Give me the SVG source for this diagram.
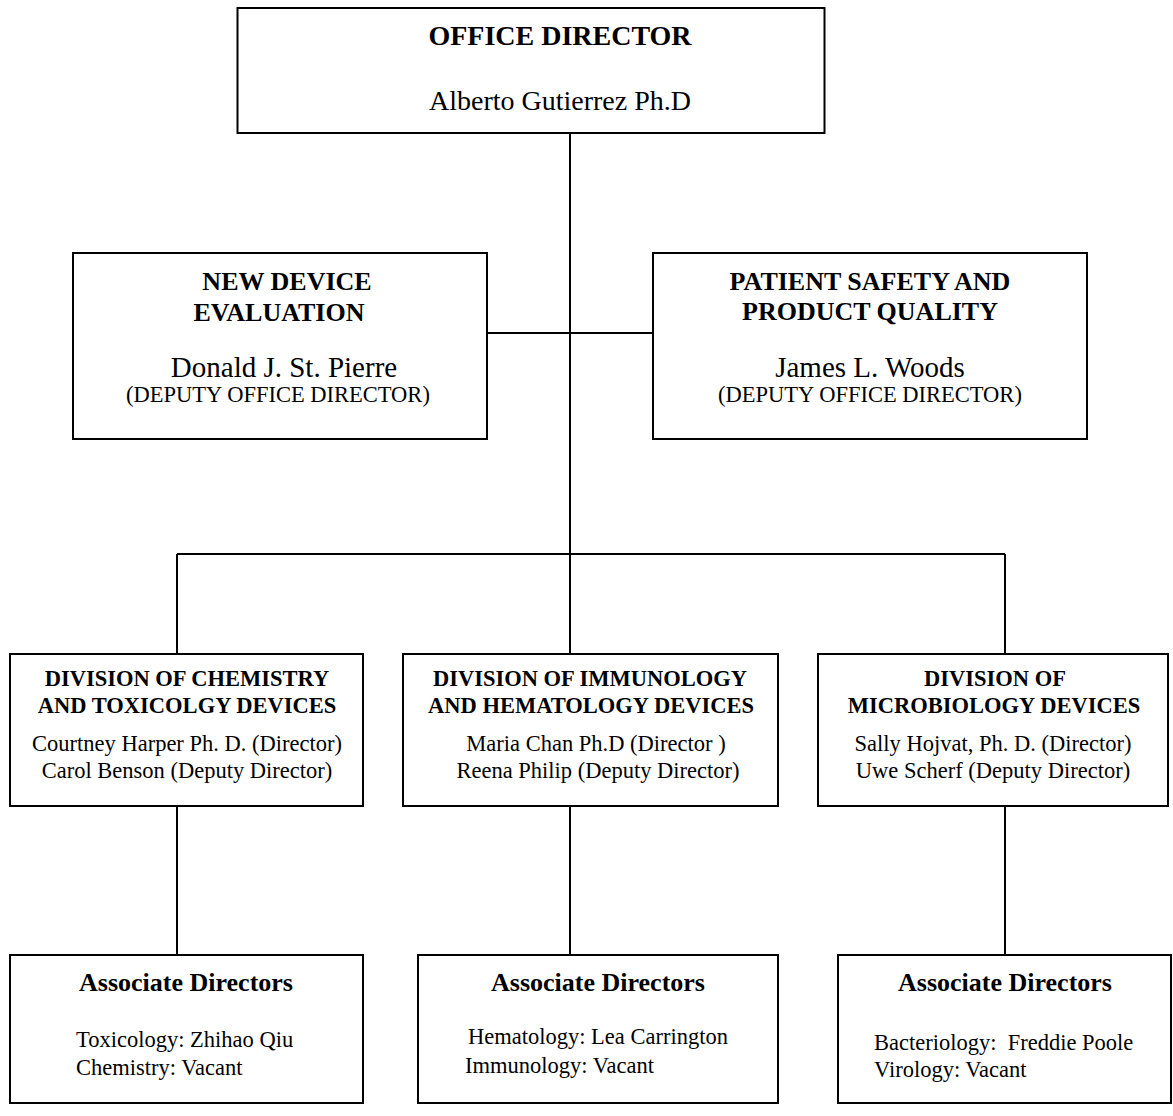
<svg xmlns="http://www.w3.org/2000/svg" width="1173" height="1116" viewBox="0 0 1173 1116">
  <style>
    .box { fill: #ffffff; stroke: #000000; stroke-width: 2; }
    .link { fill: none; stroke: #000000; stroke-width: 2; }
    text { font-family: "Liberation Serif", "Times New Roman", serif; fill: #000000; }
    .c { text-anchor: middle; }
    .b { font-weight: bold; }
    .h1 { font-size: 28px; }
    .h2 { font-size: 26px; }
    .h3 { font-size: 22.5px; }
    .n1 { font-size: 28px; }
    .n2 { font-size: 22.5px; }
  </style>
  <rect width="1173" height="1116" fill="#ffffff"/>

  <!-- connectors -->
  <g id="connectors">
    <path class="link" d="M570 133 V654"/>
    <path class="link" d="M487 333 H653"/>
    <path class="link" d="M177 554 H1005"/>
    <path class="link" d="M177 554 V654"/>
    <path class="link" d="M1005 554 V654"/>
    <path class="link" d="M177 806 V955"/>
    <path class="link" d="M570 806 V955"/>
    <path class="link" d="M1005 806 V955"/>
  </g>

  <!-- office director -->
  <g id="office-director">
    <rect class="box" x="237.5" y="8" width="587" height="125"/>
    <text class="c b h1" x="560" y="45">OFFICE DIRECTOR</text>
    <text class="c n1" x="560" y="110">Alberto Gutierrez Ph.D</text>
  </g>

  <!-- deputy offices -->
  <g id="new-device-evaluation">
    <rect class="box" x="73" y="253" width="414" height="186"/>
    <text class="c b h2" x="287" y="290">NEW DEVICE</text>
    <text class="c b h2" x="279" y="321">EVALUATION</text>
    <text class="c" font-size="29" x="284" y="377">Donald J. St. Pierre</text>
    <text class="c n2" x="278" y="402">(DEPUTY OFFICE DIRECTOR)</text>
  </g>

  <g id="patient-safety">
    <rect class="box" x="653" y="253" width="434" height="186"/>
    <text class="c b h2" x="870" y="290">PATIENT SAFETY AND</text>
    <text class="c b h2" x="870" y="320">PRODUCT QUALITY</text>
    <text class="c" font-size="29" x="870" y="377">James L. Woods</text>
    <text class="c n2" x="870" y="402">(DEPUTY OFFICE DIRECTOR)</text>
  </g>

  <!-- divisions -->
  <g id="div-chemistry">
    <rect class="box" x="10" y="654" width="353" height="152"/>
    <text class="c b h3" x="187" y="686">DIVISION OF CHEMISTRY</text>
    <text class="c b h3" x="187" y="713">AND TOXICOLGY DEVICES</text>
    <text class="c n2" x="187" y="751">Courtney Harper Ph. D. (Director)</text>
    <text class="c n2" x="187" y="778">Carol Benson (Deputy Director)</text>
  </g>

  <g id="div-immunology">
    <rect class="box" x="403" y="654" width="375" height="152"/>
    <text class="c b h3" x="590" y="686">DIVISION OF IMMUNOLOGY</text>
    <text class="c b h3" x="591" y="713">AND HEMATOLOGY DEVICES</text>
    <text class="c n2" x="596" y="751">Maria Chan Ph.D (Director )</text>
    <text class="c n2" x="598" y="778">Reena Philip (Deputy Director)</text>
  </g>

  <g id="div-microbiology">
    <rect class="box" x="818" y="654" width="350" height="152"/>
    <text class="c b h3" x="995" y="686">DIVISION OF</text>
    <text class="c b h3" x="994" y="713">MICROBIOLOGY DEVICES</text>
    <text class="c n2" x="993" y="751">Sally Hojvat, Ph. D. (Director)</text>
    <text class="c n2" x="993" y="778">Uwe Scherf (Deputy Director)</text>
  </g>

  <!-- associate directors -->
  <g id="assoc-chemistry">
    <rect class="box" x="10" y="955" width="353" height="148"/>
    <text class="c b h2" x="186" y="991">Associate Directors</text>
    <text class="n2" x="76" y="1047">Toxicology: Zhihao Qiu</text>
    <text class="n2" x="76" y="1075">Chemistry: Vacant</text>
  </g>

  <g id="assoc-immunology">
    <rect class="box" x="418" y="955" width="360" height="148"/>
    <text class="c b h2" x="598" y="991">Associate Directors</text>
    <text class="n2" x="468" y="1044">Hematology: Lea Carrington</text>
    <text class="n2" x="465" y="1073">Immunology: Vacant</text>
  </g>

  <g id="assoc-microbiology">
    <rect class="box" x="838" y="955" width="333" height="148"/>
    <text class="c b h2" x="1005" y="991">Associate Directors</text>
    <text class="n2" x="874" y="1050" xml:space="preserve">Bacteriology:  Freddie Poole</text>
    <text class="n2" x="874" y="1077">Virology: Vacant</text>
  </g>
</svg>
